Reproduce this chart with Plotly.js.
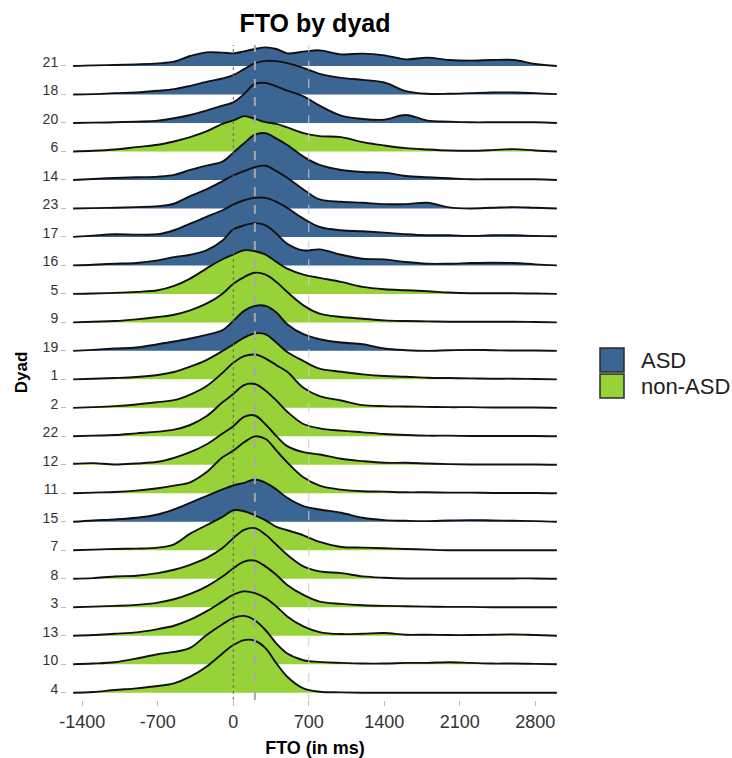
<!DOCTYPE html>
<html>
<head>
<meta charset="utf-8">
<script src="https://cdn.plot.ly/plotly-3.0.1.min.js"></script>
<style>html,body{margin:0;padding:0;background:#fff}#chart{width:732px;height:758px}</style>
</head>
<body>
<div id="chart"></div>
<script>
// FTO grid (ms) at which the density heights were read
const fto = [-1485,-1300,-1100,-900,-700,-550,-400,-250,-100,0,100,200,300,400,500,650,800,1000,1200,1400,1600,1800,2000,2200,2400,2600,2800,3000];

// Dyads, bottom row to top row
const dyadOrder = ['4','10','13','3','8','7','15','11','12','22','2','1','19','9','5','16','17','23','14','6','20','18','21'];
const asdDyads = ['21','18','20','14','23','17','16','19','15'];
const groups = ['ASD','non-ASD'];

// x-axis ticks and reference lines (ms)
const xTicks = [-1400,-700,0,700,1400,2100,2800];
const refLines = [0,200,700];

// Relative density heights per dyad (arbitrary units)
const d21 = [0,2,3,5,8,13,30,41,40,38,44,51,56,51,38,43,47,35,37,32,20,25,18,16,18,18,6,0];
const d18 = [0,1,4,6,11,16,26,38,48,58,76,94,101,100,94,80,62,50,44,36,10,2,2,4,6,6,4,1];
const d20 = [0,1,2,4,7,14,24,37,52,62,87,117,120,110,97,80,52,22,12,10,24,7,4,2,2,2,2,0];
const d6  = [0,2,6,13,20,30,43,60,83,93,106,98,88,83,72,55,46,43,28,18,10,6,3,2,4,7,3,0];
const d14 = [0,3,6,8,10,15,30,43,55,82,110,136,140,124,105,70,45,30,24,22,12,8,5,2,2,2,2,0];
const d23 = [0,1,2,4,7,14,37,57,82,99,112,124,128,112,92,57,27,20,17,13,13,17,3,0,2,4,2,0];
const d17 = [0,4,8,7,8,20,40,60,80,97,110,117,117,105,87,55,30,20,17,13,8,5,5,3,5,5,3,2];
const d16 = [0,2,5,7,15,25,32,45,75,108,120,127,120,95,65,45,48,32,20,18,10,5,5,7,8,7,3,0];
const d5  = [0,1,3,6,11,24,46,76,104,118,131,128,118,96,76,58,48,36,21,14,11,8,4,2,2,2,1,0];
const d9  = [0,2,4,9,16,23,36,56,86,116,136,149,143,121,91,51,26,16,11,6,4,3,2,2,2,2,1,0];
const d19 = [0,3,7,10,20,28,37,48,62,90,120,135,135,115,80,50,35,25,20,7,2,0,2,3,2,1,1,0];
const d1  = [0,2,4,7,13,22,38,58,85,105,125,138,135,110,82,55,32,23,15,10,8,5,4,3,2,2,1,0];
const d2  = [0,2,5,10,17,23,40,65,105,135,155,160,148,128,108,60,35,22,8,5,4,3,2,2,1,1,1,0];
const d22 = [0,2,4,9,14,20,34,60,102,127,154,157,137,107,74,37,24,17,12,7,4,2,2,1,1,1,1,0];
const d12 = [3,5,1,4,9,21,38,61,94,116,144,148,121,86,56,38,31,18,11,6,6,4,2,1,1,1,1,0];
const d11 = [0,2,4,8,15,23,33,63,108,128,153,171,163,128,93,48,23,11,6,5,3,3,2,2,1,1,1,0];
const d15 = [0,4,7,12,22,37,57,77,97,109,117,127,117,97,72,47,37,27,12,5,3,2,4,5,4,3,2,0];
const d7  = [0,2,4,5,8,18,50,75,100,120,117,105,90,70,60,45,25,10,8,6,4,2,0,0,0,0,0,0];
const d8  = [0,2,7,9,17,27,42,62,92,122,147,152,132,102,72,37,22,17,7,3,1,1,1,1,1,1,1,0];
const d3  = [0,2,4,7,14,24,40,62,92,117,137,140,122,97,67,37,17,10,6,4,3,2,1,1,0,0,0,0];
const d13 = [0,2,6,10,20,30,48,73,103,123,133,128,113,88,58,28,11,5,6,8,3,3,2,2,3,4,2,0];
const d10 = [0,2,6,17,30,37,49,87,120,139,145,132,102,62,32,12,7,4,2,2,4,4,6,4,2,2,1,0];
const d4  = [0,2,8,13,20,28,48,78,118,143,158,156,133,88,48,13,3,1,0,0,0,0,0,0,0,0,0,0];

const densities = {'21':d21,'18':d18,'20':d20,'6':d6,'14':d14,'23':d23,'17':d17,'16':d16,'5':d5,'9':d9,'19':d19,'1':d1,'2':d2,'22':d22,'12':d12,'11':d11,'15':d15,'7':d7,'8':d8,'3':d3,'13':d13,'10':d10,'4':d4};

// ---- styling / layout constants ----
const FONT = 'Liberation Sans, Arial, Helvetica, sans-serif';
const COLORS = {'ASD':'#3b6593','non-ASD':'#98d239'};
const SCALE = 1/85.5;           // rows per density unit
const L = 67, R = 563, T = 45, B = 700, W = 732, H = 758;
const px2x = p => (p - L) / (R - L);
const px2y = p => (B - p) / (B - T);

const traces = [];
for (let k = dyadOrder.length - 1; k >= 0; k--) {
  const name = dyadOrder[k];
  const dens = densities[name];
  const grp = asdDyads.includes(name) ? 'ASD' : 'non-ASD';
  traces.push({
    type:'scatter', mode:'lines', x: fto, y: fto.map(() => k),
    line:{width:0, color:'rgba(0,0,0,0)'}, hoverinfo:'skip', showlegend:false
  });
  traces.push({
    type:'scatter', mode:'lines', x: fto, y: dens.map(v => k + v * SCALE),
    name: 'Dyad ' + name + ' (' + grp + ')',
    line:{color:'#111', width:1.9, shape:'spline', smoothing:1},
    fill:'tonexty', fillcolor: COLORS[grp], showlegend:false
  });
}

const refStyles = [
  {color:'#666', width:1, dash:'dot'},
  {color:'#a8a8a8', width:2, dash:'dash'},
  {color:'#cccccc', width:1, dash:'dash'}
];
const shapes = refLines.map((v, i) => ({
  type:'line', xref:'x', yref:'paper', x0:v, x1:v, y0:0, y1:1, layer:'above', line: refStyles[i]
}));

// legend keys
const annotations = [];
groups.forEach((g, i) => {
  const top = 348 + i * 26;
  shapes.push({
    type:'rect', xref:'paper', yref:'paper',
    x0: px2x(600), x1: px2x(624), y0: px2y(top + 24), y1: px2y(top),
    fillcolor: COLORS[g], line:{color:'#2b2b2b', width:1.5}, layer:'above'
  });
  annotations.push({
    xref:'paper', yref:'paper', x: px2x(639), y: px2y(top + 12),
    xanchor:'left', yanchor:'middle', showarrow:false, text: g,
    font:{family:FONT, size:22, color:'#222'}
  });
});

const layout = {
  width: W, height: H,
  margin:{l:L, r:W - R, t:T, b:H - B, pad:0},
  paper_bgcolor:'#fff', plot_bgcolor:'#fff',
  font:{family:FONT, color:'#333'},
  title:{text:'<b>FTO by dyad</b>', x:0.5, xref:'paper', xanchor:'center',
         y: 1 - 23/H, yref:'container', yanchor:'middle',
         font:{family:FONT, size:25, color:'#000'}},
  xaxis:{range:[-1542, 3057], tickvals:xTicks, ticktext:xTicks.map(String),
         ticks:'outside', ticklen:5, tickwidth:1, tickcolor:'#bbb',
         tickfont:{family:FONT, size:18, color:'#333'},
         showgrid:false, zeroline:false, showline:false,
         title:{text:'<b>FTO (in ms)</b>', standoff:10, font:{family:FONT, size:18, color:'#000'}}},
  yaxis:{range:[-0.256, 22.737], tickvals:dyadOrder.map((d, i) => i), ticktext:dyadOrder,
         ticks:'outside', ticklen:5, tickwidth:1, tickcolor:'#bbb',
         tickfont:{family:FONT, size:14, color:'#333'},
         ticklabelshift:-4,
         showgrid:false, zeroline:false, showline:false,
         title:{text:'<b>Dyad</b>', standoff:10, font:{family:FONT, size:17, color:'#000'}}},
  shapes: shapes,
  annotations: annotations,
  showlegend:false
};

Plotly.newPlot('chart', traces, layout, {displayModeBar:false, staticPlot:true});
</script>
</body>
</html>
